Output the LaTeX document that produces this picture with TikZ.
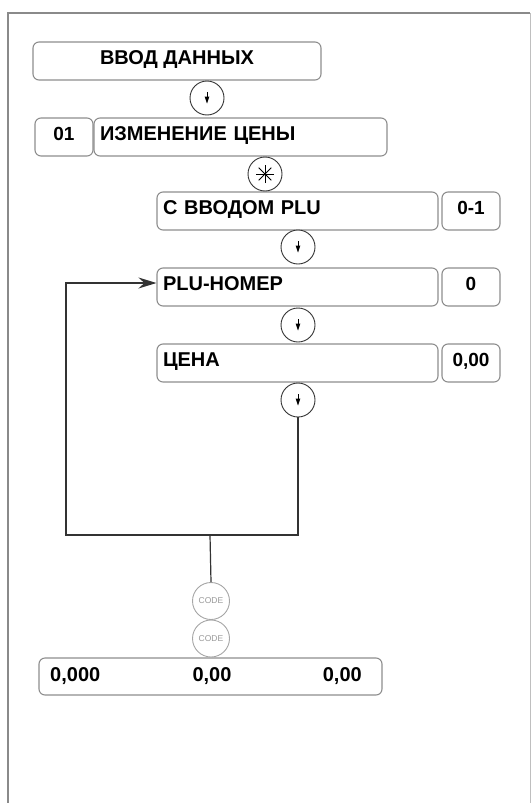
\documentclass[tikz,border=0pt]{standalone}
\usepackage{fontspec}
\setmainfont{Liberation Sans}
\usetikzlibrary{arrows.meta}
\definecolor{boxgray}{HTML}{8E8E8E}
\definecolor{framegray}{HTML}{8A8A8A}
\definecolor{linegray}{HTML}{333333}
\begin{document}
\begin{tikzpicture}[x=1pt,y=-1pt,
  box/.style={draw=boxgray, line width=1.1pt, rounded corners=6pt, inner xsep=6pt, inner ysep=0pt, minimum height=38pt, text height=14pt, text depth=7pt},
  lbl/.style={font=\fontsize{20}{22}\selectfont\bfseries},
  num/.style={font=\fontsize{19}{21}\selectfont\bfseries},
  keyc/.style={circle, draw=black!80, line width=0.9pt, minimum size=34pt, inner sep=0pt, fill=white},
  codec/.style={circle, draw=gray!70, line width=0.9pt, minimum size=37pt, inner sep=0pt, fill=white, text=gray!80, font=\fontsize{8.5}{9}\selectfont},
  conn/.style={draw=linegray, line width=1.2pt}]
\useasboundingbox (0,0) rectangle (531,803);
% frame
\draw[framegray, line width=2pt] (8,803) -- (8,13) -- (530,13);
\draw[gray!50, line width=0.8pt] (530,13) -- (530,803);
% boxes
\node[box, lbl, minimum width=288pt] (input) at (177,61) {ВВОД ДАННЫХ};
\node[box, num, minimum width=58pt] (n01) at (64,137) {01};
\node[box, lbl, text width=281pt, align=left] (chg) at (240.5,137) {ИЗМЕНЕНИЕ ЦЕНЫ};
\node[box, lbl, text width=269pt, align=left] (plu1) at (297.5,211) {С ВВОДОМ PLU};
\node[box, num, minimum width=58pt] (v01) at (471,211) {0-1};
\node[box, lbl, text width=269pt, align=left] (plunum) at (297.5,287) {PLU-НОМЕР};
\node[box, num, minimum width=58pt] (v0) at (471,287) {0};
\node[box, lbl, text width=269pt, align=left] (price) at (297.5,363) {ЦЕНА};
\node[box, num, minimum width=58pt] (v000) at (471,363) {0,00};
\node[box, minimum width=343pt, minimum height=37pt] (total) at (210.5,676.5) {};
\node[lbl, anchor=west, inner sep=0pt] (t1) at (50,676) {0,000};
\node[lbl, inner sep=0pt] (t2) at (212,676) {0,00};
\node[lbl, anchor=east, inner sep=0pt] (t3) at (362,676) {0,00};
% key circles
\node[keyc] (c1) at (207,98) {};
\node[keyc] (star) at (265,174) {};
\node[keyc] (c2) at (298,247) {};
\node[keyc] (c3) at (298,325) {};
\node[keyc] (c4) at (298,400) {};
\foreach \c in {c1,c2,c3,c4}{
  \begin{scope}[shift={(\c.center)}]
    \draw[line width=0.8pt] (0,-6) -- (0,0);
    \fill (-2.4,-1.5) -- (2.4,-1.5) -- (0,5.5) -- cycle;
  \end{scope}
}
\begin{scope}[shift={(star.center)}]
  \foreach \a in {0,45,90,135} \draw[line width=0.9pt] (\a:9) -- (\a+180:9);
\end{scope}
% code keys
\node[codec] (code1) at (211,601) {CODE};
\node[codec] (code2) at (211,638.5) {CODE};
% connectors
\coordinate (cr) at (298,535);
\coordinate (cl) at (66,535);
\coordinate (ct) at (66,283);
\coordinate (j) at (210,535);
\draw[conn, -{Stealth[length=18pt,width=11pt,inset=6pt]}] (c4.south) -- (cr) -- (cl) -- (ct) -- (ct -| plunum.west);
\draw[conn] (j) -- (code1.north);
\end{tikzpicture}
\end{document}
